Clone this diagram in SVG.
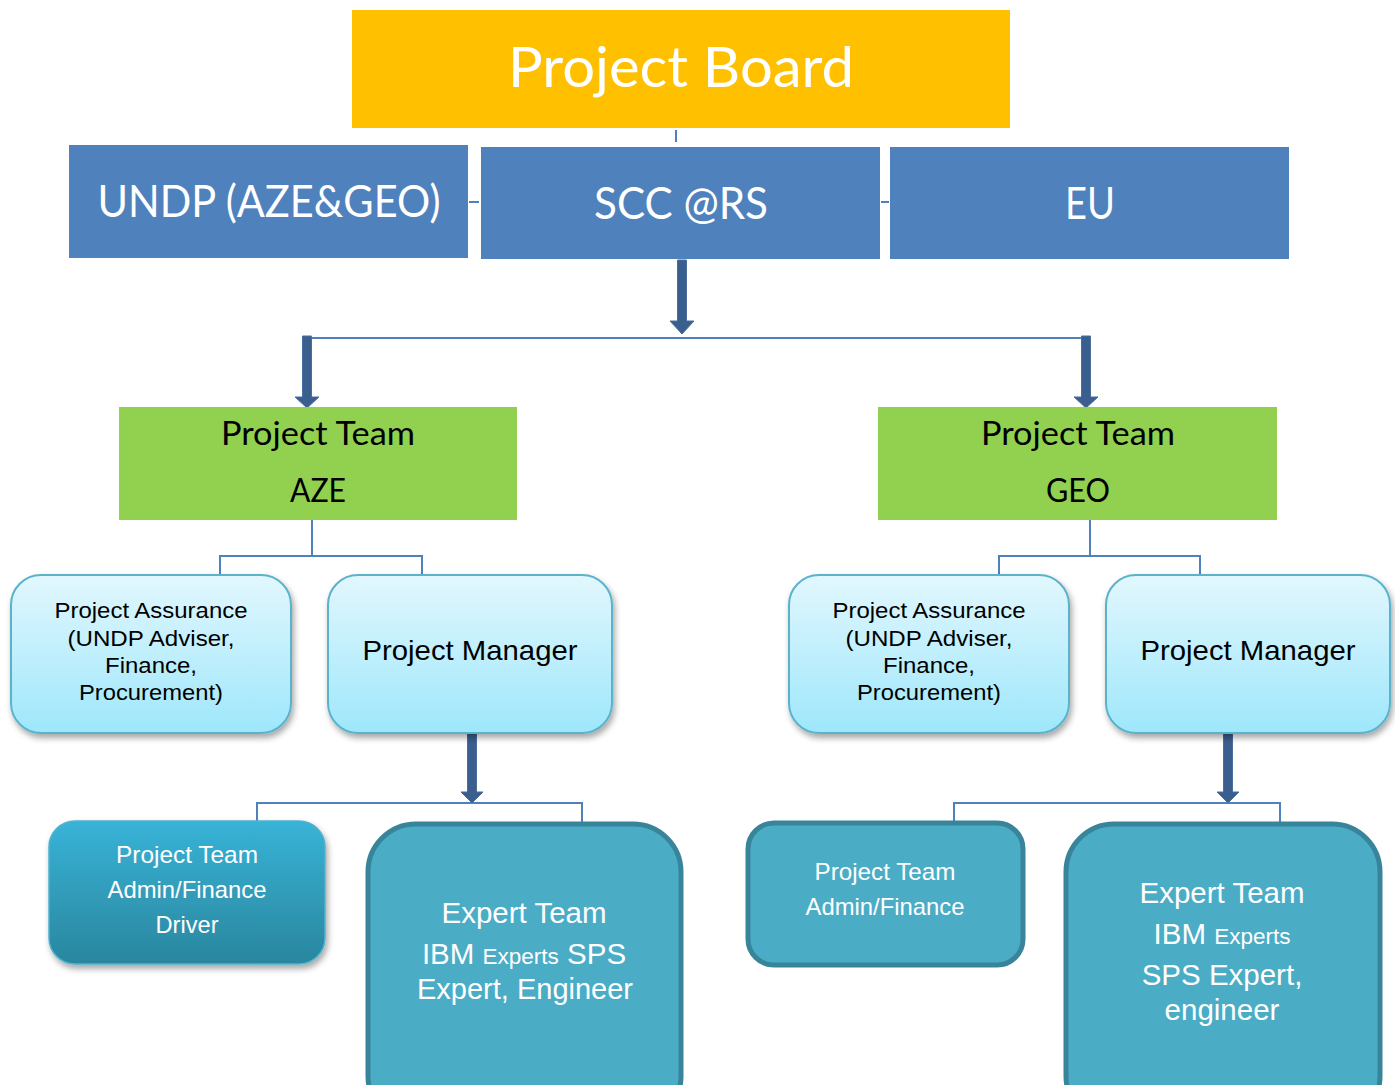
<svg xmlns="http://www.w3.org/2000/svg" width="1395" height="1085" viewBox="0 0 1395 1085">
<defs>
<linearGradient id="gLight" x1="0" y1="0" x2="0" y2="1">
<stop offset="0" stop-color="#E2F7FE"/>
<stop offset="1" stop-color="#9EE7FB"/>
</linearGradient>
<linearGradient id="gTeal" x1="0" y1="0" x2="0" y2="1">
<stop offset="0" stop-color="#38B3D7"/>
<stop offset="1" stop-color="#2A869E"/>
</linearGradient>
<filter id="sh" x="-10%" y="-10%" width="125%" height="130%">
<feDropShadow dx="2" dy="4" stdDeviation="3" flood-color="#000" flood-opacity="0.35"/>
</filter>
</defs>
<style>
.cal{font-family:Lato,"Open Sans","Liberation Sans",sans-serif;text-anchor:middle}
.ar{font-family:"Liberation Sans",Arial,sans-serif;text-anchor:middle}
.w{fill:#FFFFFF}
.k{fill:#000000}
.blue{fill:#4F81BD}
.light{fill:url(#gLight);stroke:#5AB3CB;stroke-width:2}
.teal{fill:#4BACC6;stroke:#38849A;stroke-width:5}
.conn{fill:none;stroke:#4F81BD;stroke-width:2}
.arrow{fill:#3A5F8F;stroke:#4B6E9C;stroke-width:1}
</style>

<g id="connectors">
<line class="conn" x1="676" y1="130" x2="676" y2="142"/>
<line class="conn" x1="469" y1="202" x2="479" y2="202"/>
<line class="conn" x1="881" y1="202" x2="889" y2="202"/>
<path class="conn" d="M307 338 H1090"/>
<path class="conn" d="M312 520 V556 M220 575 V556 H422 V575"/>
<path class="conn" d="M1090 520 V556 M999 575 V556 H1200 V575"/>
<path class="conn" d="M257 822 V803 H582 V822"/>
<path class="conn" d="M954 822 V803 H1280 V822"/>
<path class="arrow" d="M677.5 260 H686.5 V321 H694 L682 334 L670 321 H677.5 Z"/>
<path class="arrow" d="M302.5 336 H311.5 V397 H319 L307 408 L295 397 H302.5 Z"/>
<path class="arrow" d="M1081.5 336 H1090.5 V397 H1098 L1086 408 L1074 397 H1081.5 Z"/>
<path class="arrow" d="M467.5 732 H476.5 V792 H483 L472 803 L461 792 H467.5 Z"/>
<path class="arrow" d="M1223.5 732 H1232.5 V792 H1239 L1228 803 L1217 792 H1223.5 Z"/>
</g>

<g id="project-board">
<rect x="352" y="10" width="658" height="118" fill="#FFC000"/>
<text class="cal w" x="681" y="87" font-size="56" textLength="346" lengthAdjust="spacingAndGlyphs">Project Board</text>
</g>

<g id="undp">
<rect class="blue" x="69" y="145" width="399" height="113"/>
<text class="cal w" x="269" y="217" font-size="45" textLength="343" lengthAdjust="spacingAndGlyphs">UNDP (AZE&amp;GEO)</text>
</g>
<g id="scc">
<rect class="blue" x="481" y="147" width="399" height="112"/>
<text class="cal w" x="681" y="219" font-size="45" textLength="174" lengthAdjust="spacingAndGlyphs">SCC @RS</text>
</g>
<g id="eu">
<rect class="blue" x="890" y="147" width="399" height="112"/>
<text class="cal w" x="1090" y="219" font-size="45" textLength="50" lengthAdjust="spacingAndGlyphs">EU</text>
</g>

<g id="team-aze">
<rect x="119" y="407" width="398" height="113" fill="#92D050"/>
<text class="cal k" x="318" y="445" font-size="32" textLength="194" lengthAdjust="spacingAndGlyphs">Project Team</text>
<text class="cal k" x="318" y="502" font-size="32" textLength="56" lengthAdjust="spacingAndGlyphs">AZE</text>
</g>
<g id="team-geo">
<rect x="878" y="407" width="399" height="113" fill="#92D050"/>
<text class="cal k" x="1078" y="445" font-size="32" textLength="194" lengthAdjust="spacingAndGlyphs">Project Team</text>
<text class="cal k" x="1078" y="502" font-size="32" textLength="64" lengthAdjust="spacingAndGlyphs">GEO</text>
</g>

<g id="assurance-aze">
<rect class="light" filter="url(#sh)" x="11" y="575" width="280" height="158" rx="30"/>
<text class="ar k" x="151" y="618" font-size="21.5" textLength="193" lengthAdjust="spacingAndGlyphs">Project Assurance</text>
<text class="ar k" x="151" y="646" font-size="21.5" textLength="167" lengthAdjust="spacingAndGlyphs">(UNDP Adviser,</text>
<text class="ar k" x="151" y="673" font-size="21.5" textLength="92" lengthAdjust="spacingAndGlyphs">Finance,</text>
<text class="ar k" x="151" y="700" font-size="21.5" textLength="144" lengthAdjust="spacingAndGlyphs">Procurement)</text>
</g>
<g id="manager-aze">
<rect class="light" filter="url(#sh)" x="328" y="575" width="284" height="158" rx="30"/>
<text class="ar k" x="470" y="660" font-size="28" textLength="215" lengthAdjust="spacingAndGlyphs">Project Manager</text>
</g>
<g id="assurance-geo">
<rect class="light" filter="url(#sh)" x="789" y="575" width="280" height="158" rx="30"/>
<text class="ar k" x="929" y="618" font-size="21.5" textLength="193" lengthAdjust="spacingAndGlyphs">Project Assurance</text>
<text class="ar k" x="929" y="646" font-size="21.5" textLength="167" lengthAdjust="spacingAndGlyphs">(UNDP Adviser,</text>
<text class="ar k" x="929" y="673" font-size="21.5" textLength="92" lengthAdjust="spacingAndGlyphs">Finance,</text>
<text class="ar k" x="929" y="700" font-size="21.5" textLength="144" lengthAdjust="spacingAndGlyphs">Procurement)</text>
</g>
<g id="manager-geo">
<rect class="light" filter="url(#sh)" x="1106" y="575" width="284" height="158" rx="30"/>
<text class="ar k" x="1248" y="660" font-size="28" textLength="215" lengthAdjust="spacingAndGlyphs">Project Manager</text>
</g>

<g id="admin-aze">
<rect filter="url(#sh)" x="49" y="821" width="276" height="143" rx="26" fill="url(#gTeal)" stroke="#4FB3CF" stroke-width="1.5"/>
<text class="ar w" x="187" y="863" font-size="24" textLength="142" lengthAdjust="spacingAndGlyphs">Project Team</text>
<text class="ar w" x="187" y="898" font-size="24" textLength="159" lengthAdjust="spacingAndGlyphs">Admin/Finance</text>
<text class="ar w" x="187" y="933" font-size="24" textLength="63" lengthAdjust="spacingAndGlyphs">Driver</text>
</g>
<g id="expert-aze">
<rect class="teal" x="368" y="824" width="313" height="300" rx="48"/>
<text class="ar w" x="524" y="923" font-size="29.5">Expert Team</text>
<text class="ar w" x="524" y="964" font-size="29.5">IBM <tspan font-size="22.5">Experts</tspan> SPS</text>
<text class="ar w" x="525" y="999" font-size="29">Expert, Engineer</text>
</g>
<g id="admin-geo">
<rect class="teal" x="748" y="823" width="275" height="142" rx="26" stroke-width="4.5"/>
<text class="ar w" x="885" y="880" font-size="24" textLength="141" lengthAdjust="spacingAndGlyphs">Project Team</text>
<text class="ar w" x="885" y="915" font-size="24" textLength="159" lengthAdjust="spacingAndGlyphs">Admin/Finance</text>
</g>
<g id="expert-geo">
<rect class="teal" x="1066" y="824" width="314" height="300" rx="48"/>
<text class="ar w" x="1222" y="903" font-size="29.5">Expert Team</text>
<text class="ar w" x="1222" y="944" font-size="29.5">IBM <tspan font-size="22.5">Experts</tspan></text>
<text class="ar w" x="1222" y="985" font-size="29.5">SPS Expert,</text>
<text class="ar w" x="1222" y="1020" font-size="29.5">engineer</text>
</g>
</svg>
